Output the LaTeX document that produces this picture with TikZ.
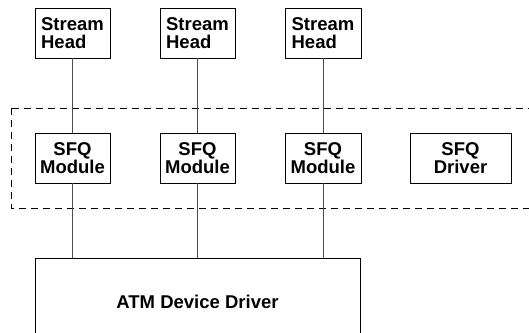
\documentclass[tikz,border=0pt]{standalone}
\usepackage{fontspec}
\setmainfont{Liberation Sans}
\begin{document}
\begin{tikzpicture}[x=1pt,y=-1pt,
  box/.style={draw=black,line width=0.8pt,inner sep=0pt,font=\fontsize{18.5}{18.5}\selectfont\bfseries},
  conn/.style={draw=black!70,line width=0.9pt},
  region/.style={draw=black,line width=0.8pt,dash pattern=on 7pt off 5pt}]
\useasboundingbox (0,0) rectangle (529,332);
\fill[white] (0,0) rectangle (529,332);
\node[box,align=left,minimum width=75pt,minimum height=50pt] (sh1) at (72.5,33) {Stream\\Head};
\node[box,align=left,minimum width=75pt,minimum height=50pt] (sh2) at (197.5,33) {Stream\\Head};
\node[box,align=left,minimum width=76pt,minimum height=50pt] (sh3) at (323,33) {Stream\\Head};
\node[box,align=center,minimum width=75pt,minimum height=50pt] (m1) at (72.5,158) {SFQ\\Module};
\node[box,align=center,minimum width=75pt,minimum height=50pt] (m2) at (197.5,158) {SFQ\\Module};
\node[box,align=center,minimum width=76pt,minimum height=50pt] (m3) at (323,158) {SFQ\\Module};
\node[box,align=center,minimum width=101pt,minimum height=50pt] (drv) at (460.5,158) {SFQ\\Driver};
\node[box,minimum width=325pt,minimum height=88pt] (atm) at (197.5,302) {ATM Device Driver};
\draw[region] (11,108) rectangle (545,208);
\draw[conn] (sh1) -- (m1);
\draw[conn] (sh2) -- (m2);
\draw[conn] (sh3) -- (m3);
\draw[conn] (m1) -- (m1 |- atm.north);
\draw[conn] (m2) -- (m2 |- atm.north);
\draw[conn] (m3) -- (m3 |- atm.north);
\end{tikzpicture}
\end{document}
